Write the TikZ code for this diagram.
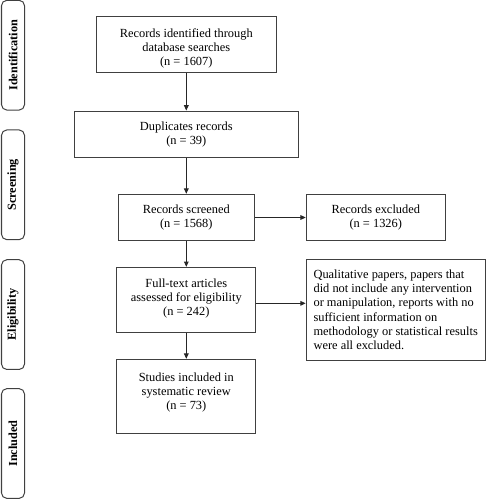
\documentclass[tikz,border=0pt]{standalone}
\usepackage{fontspec}
\setmainfont{Liberation Serif}
\usetikzlibrary{arrows.meta}

\tikzset{every picture/.style={line width=0.75pt}}
\tikzset{
  stagetab/.style={draw=black!75, rounded corners=4pt, rotate=90, minimum width=82.3pt, minimum height=17.25pt, inner sep=0pt, font=\fontsize{9.2}{10.8}\selectfont\bfseries},
  flowbox/.style={draw=black!75, align=center, inner sep=0.75pt, font=\fontsize{9.3}{10.7}\selectfont},
  flowarrow/.style={draw=black!85, -{Triangle[length=4pt,width=3.5pt]}}
}

\begin{document}
\begin{tikzpicture}[x=0.75pt,y=0.75pt,yscale=-1,xscale=1]
%set diagram size to 486 x 500
\path[use as bounding box] (0,0) rectangle (486,500);

% Stage tabs
\node[stagetab] (identtab) at (13,55.2) {Identification};
\node[stagetab] (screentab) at (13,184.8) {Screening};
\node[stagetab] (eligtab) at (13,314.6) {Eligibility};
\node[stagetab] (incltab) at (13,443.5) {Included};

% Flow boxes
\node[flowbox, minimum width=135.2pt, minimum height=42.2pt, text height=33.5pt] (records) at (186.3,44.8) {Records identified through\\database searches\\(n = 1607)};
\node[flowbox, minimum width=168.3pt, minimum height=34.7pt] (duplicates) at (186.3,134.2) {Duplicates records\\(n = 39)};
\node[flowbox, minimum width=101.6pt, minimum height=34.8pt] (screened) at (186.3,217.5) {Records screened\\(n = 1568)};
\node[flowbox, minimum width=104.3pt, minimum height=34.8pt] (excluded) at (375.8,217.5) {Records excluded\\(n = 1326)};
\node[flowbox, minimum width=104.5pt, minimum height=49pt, text depth=4pt] (fulltext) at (186.3,300) {Full-text articles\\assessed for eligibility\\(n = 242)};
\node[flowbox, align=left, minimum width=134.3pt, minimum height=75.5pt] (qualitative) at (395.7,309.7) {Qualitative papers, papers that\\did not include any intervention\\or manipulation, reports with no\\sufficient information on\\methodology or statistical results\\were all excluded.};
\node[flowbox, minimum width=104.5pt, minimum height=55.5pt, text depth=8pt] (included) at (186.3,396.3) {Studies included in\\systematic review\\(n = 73)};

% Arrows
\draw[flowarrow] (records) -- (duplicates);
\draw[flowarrow] (duplicates) -- (screened);
\draw[flowarrow] (screened) -- (excluded);
\draw[flowarrow] (screened) -- (fulltext);
\draw[flowarrow] ([yshift=2.5pt]fulltext.east) -- ([yshift=2.5pt]fulltext.east -| qualitative.west);
\draw[flowarrow] (fulltext) -- (included);

\end{tikzpicture}
\end{document}
